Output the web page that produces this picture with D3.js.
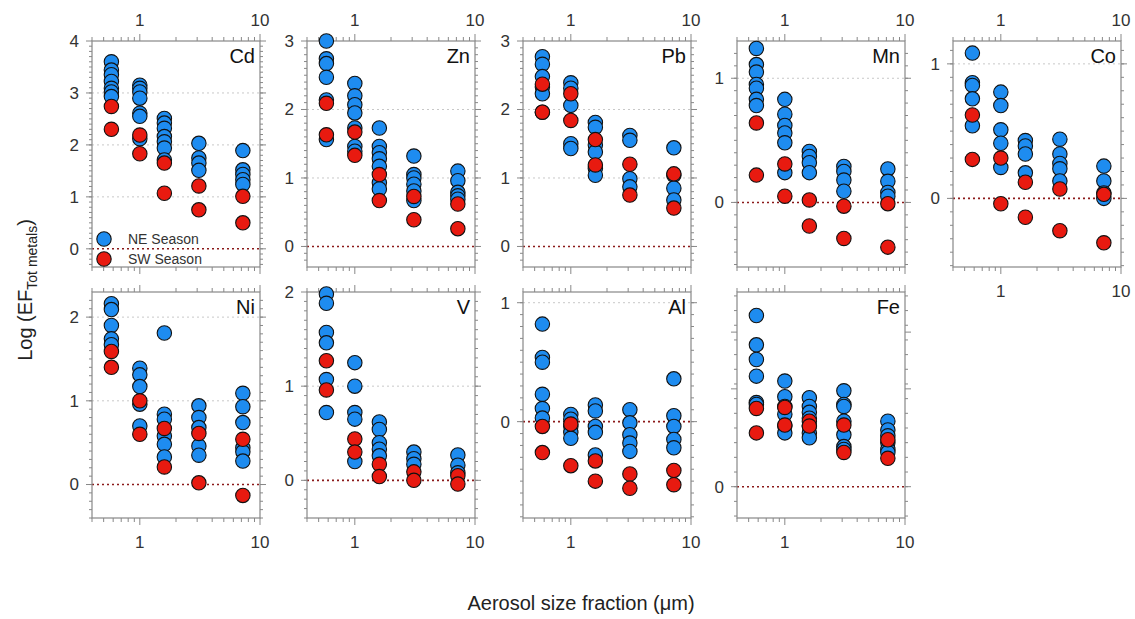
<!DOCTYPE html>
<html>
<head>
<meta charset="utf-8">
<script src="https://cdn.jsdelivr.net/npm/d3@7"></script>
<style>
  body { margin: 0; background: #fff; }
  text { font-family: "Liberation Sans", Arial, sans-serif; }
</style>
</head>
<body>
<div id="chart"></div>
<script>
var width = 1135;
var height = 619;

// aerosol size fractions (um), one column of points each
var sizes = [0.58, 1.0, 1.6, 3.1, 7.2];

// Log(EF) values per size fraction, NE and SW season
var cdNE = [[3.60, 3.44, 3.35, 3.22, 3.09, 3.02, 2.93], [3.15, 3.09, 3.02, 2.90, 2.61, 2.55, 2.12], [2.51, 2.42, 2.32, 2.16, 2.06, 1.94, 1.71], [2.03, 1.75, 1.65, 1.51], [1.89, 1.52, 1.43, 1.33, 1.24]];
var cdSW = [[2.74, 2.30], [2.19, 1.83], [1.65, 1.07], [1.21, 0.75], [1.01, 0.50]];
var znNE = [[3.00, 2.74, 2.67, 2.47, 2.14, 1.56], [2.38, 2.20, 2.07, 1.95, 1.73, 1.46, 1.39], [1.73, 1.46, 1.37, 1.28, 1.17, 0.93, 0.84], [1.32, 1.05, 1.00, 0.91, 0.81, 0.67], [1.10, 0.96, 0.79, 0.74, 0.69]];
var znSW = [[2.09, 1.63], [1.67, 1.33], [1.05, 0.67], [0.73, 0.39], [0.62, 0.26]];
var pbNE = [[2.77, 2.66, 2.48, 2.33, 2.23, 1.96], [2.39, 2.31, 2.06, 1.50, 1.43], [1.81, 1.74, 1.48, 1.38, 1.14, 1.04], [1.62, 1.55, 0.99, 0.87], [1.44, 1.04, 0.85, 0.68]];
var pbSW = [[2.37, 1.96], [2.23, 1.84], [1.56, 1.19], [1.20, 0.75], [1.06, 0.56]];
var mnNE = [[1.24, 1.11, 1.05, 0.95, 0.92, 0.83, 0.78], [0.83, 0.71, 0.62, 0.56, 0.48, 0.24], [0.41, 0.37, 0.32, 0.24], [0.29, 0.25, 0.18, 0.09], [0.27, 0.17, 0.08, 0.05]];
var mnSW = [[0.64, 0.22], [0.31, 0.05], [0.02, -0.19], [-0.03, -0.29], [-0.01, -0.36]];
var coNE = [[1.08, 0.86, 0.84, 0.74, 0.54], [0.79, 0.69, 0.51, 0.41, 0.23], [0.43, 0.39, 0.33, 0.19], [0.44, 0.33, 0.26, 0.22, 0.13], [0.24, 0.13, 0.04, 0.00]];
var coSW = [[0.62, 0.29], [0.30, -0.04], [0.12, -0.14], [0.07, -0.24], [0.03, -0.33]];
var niNE = [[2.16, 2.09, 1.90, 1.74, 1.67], [1.39, 1.31, 1.17, 0.96, 0.70], [1.81, 0.84, 0.78, 0.58, 0.48, 0.33], [0.94, 0.80, 0.68, 0.46, 0.35], [1.09, 0.93, 0.74, 0.44, 0.39, 0.28]];
var niSW = [[1.59, 1.40], [1.00, 0.60], [0.67, 0.21], [0.61, 0.02], [0.54, -0.13]];
var vNE = [[1.98, 1.88, 1.57, 1.46, 1.07, 0.72], [1.25, 1.00, 0.72, 0.65, 0.20], [0.62, 0.54, 0.40, 0.33, 0.26], [0.30, 0.23, 0.17], [0.27, 0.16, 0.08]];
var vSW = [[1.27, 0.96], [0.44, 0.30], [0.17, 0.04], [0.09, 0.00], [0.05, -0.04]];
var alNE = [[0.82, 0.54, 0.50, 0.23, 0.11, 0.03], [0.06, 0.02, -0.04, -0.09, -0.14], [0.14, 0.09, -0.04, -0.09, -0.28], [0.10, -0.01, -0.11, -0.18, -0.25], [0.36, 0.05, -0.04, -0.15, -0.22]];
var alSW = [[-0.04, -0.26], [-0.02, -0.37], [-0.33, -0.50], [-0.44, -0.56], [-0.41, -0.53]];
var feNE = [[1.75, 1.45, 1.30, 1.13, 0.86, 0.84], [1.08, 0.92, 0.82, 0.74, 0.62, 0.55], [0.91, 0.82, 0.76, 0.70, 0.62, 0.55, 0.50], [0.98, 0.84, 0.82, 0.67, 0.53, 0.41, 0.38], [0.67, 0.58, 0.52, 0.45, 0.38, 0.35]];
var feSW = [[0.80, 0.55], [0.81, 0.63], [0.67, 0.62], [0.63, 0.35], [0.48, 0.29]];

// y axis ticks per panel
var ticksCd = [0, 1, 2, 3, 4];
var ticksZn = [0, 1, 2, 3];
var ticksPb = [0, 1, 2, 3];
var ticksMn = [0, 1];
var ticksCo = [0, 1];
var ticksNi = [0, 1, 2];
var ticksV = [0, 1, 2];
var ticksAl = [0, 1];
var ticksFe = [0, 1, 1.58];

var seasons = ["NE Season", "SW Season"];
var xTicks = [1, 10];

var blue = "#1e8cf0";
var red = "#e81a10";

var panels = [
  { name: "Cd", ne: cdNE, sw: cdSW, ticks: ticksCd, y: [-0.35, 4], row: 0, col: 0, minor: 0.1 },
  { name: "Zn", ne: znNE, sw: znSW, ticks: ticksZn, y: [-0.3, 3], row: 0, col: 1, minor: 0.1 },
  { name: "Pb", ne: pbNE, sw: pbSW, ticks: ticksPb, y: [-0.3, 3], row: 0, col: 2, minor: 0.1 },
  { name: "Mn", ne: mnNE, sw: mnSW, ticks: ticksMn, y: [-0.52, 1.3], row: 0, col: 3, minor: 0.1 },
  { name: "Co", ne: coNE, sw: coSW, ticks: ticksCo, y: [-0.51, 1.17], row: 0, col: 4, minor: 0.1, bottomLabels: true },
  { name: "Ni", ne: niNE, sw: niSW, ticks: ticksNi, y: [-0.4, 2.3], row: 1, col: 0, minor: 0.1 },
  { name: "V", ne: vNE, sw: vSW, ticks: ticksV, y: [-0.4, 2], row: 1, col: 1, minor: 0.1 },
  { name: "Al", ne: alNE, sw: alSW, ticks: ticksAl, y: [-0.81, 1.09], row: 1, col: 2, minor: 0.1 },
  { name: "Fe", ne: feNE, sw: feSW, ticks: ticksFe, y: [-0.32, 1.99], row: 1, col: 3, minor: 0.15, onlyZero: true }
];

var colLeft = [92, 307, 523, 737, 953];
var rowTop = [41, 292];
var pw = 168;
var ph = 226;

var svg = d3.select("#chart").append("svg")
  .attr("width", width)
  .attr("height", height);

var minorX = [0.4, 0.5, 0.6, 0.7, 0.8, 0.9, 2, 3, 4, 5, 6, 7, 8, 9];

panels.forEach(function(p) {
  var g = svg.append("g")
    .attr("transform", "translate(" + colLeft[p.col] + "," + rowTop[p.row] + ")");

  var x = d3.scaleLog().domain([0.4, 10]).range([0, pw]);
  var y = d3.scaleLinear().domain(p.y).range([ph, 0]);

  // gridlines at labelled ticks
  if (!p.onlyZero) {
    g.selectAll(".grid")
      .data(p.ticks.filter(function(t) { return t !== 0 && y(t) > 1; }))
      .enter().append("line")
      .attr("x1", 0).attr("x2", pw)
      .attr("y1", function(d) { return y(d); })
      .attr("y2", function(d) { return y(d); })
      .attr("stroke", "#c8c8c8")
      .attr("stroke-width", 1)
      .attr("stroke-dasharray", "2,3");
  }

  // zero line
  g.append("line")
    .attr("x1", 0).attr("x2", pw)
    .attr("y1", y(0)).attr("y2", y(0))
    .attr("stroke", "#8b1a1a")
    .attr("stroke-width", 1.6)
    .attr("stroke-dasharray", "2,3");

  // minor y ticks
  var minorY = d3.range(Math.ceil(p.y[0] / p.minor) * p.minor, p.y[1], p.minor);
  [0, pw].forEach(function(xe, k) {
    var dir = k === 0 ? -1 : 1;
    g.selectAll(null).data(minorY).enter().append("line")
      .attr("x1", xe).attr("x2", xe + dir * 3)
      .attr("y1", function(d) { return y(d); })
      .attr("y2", function(d) { return y(d); })
      .attr("stroke", "#888");
    g.selectAll(null).data(p.ticks).enter().append("line")
      .attr("x1", xe).attr("x2", xe + dir * 6)
      .attr("y1", function(d) { return y(d); })
      .attr("y2", function(d) { return y(d); })
      .attr("stroke", "#888");
  });

  // x ticks top and bottom (outward)
  [0, ph].forEach(function(ye, k) {
    var dir = k === 0 ? -1 : 1;
    g.selectAll(null).data(minorX).enter().append("line")
      .attr("x1", function(d) { return x(d); })
      .attr("x2", function(d) { return x(d); })
      .attr("y1", ye).attr("y2", ye + dir * 4)
      .attr("stroke", "#888");
    g.selectAll(null).data(xTicks).enter().append("line")
      .attr("x1", function(d) { return x(d); })
      .attr("x2", function(d) { return x(d); })
      .attr("y1", ye).attr("y2", ye + dir * 7)
      .attr("stroke", "#888");
  });

  // frame
  g.append("rect")
    .attr("width", pw).attr("height", ph)
    .attr("fill", "none")
    .attr("stroke", "#888")
    .attr("stroke-width", 1.2);

  // y labels
  g.selectAll(".ylab")
    .data(p.onlyZero ? [0] : p.ticks)
    .enter().append("text")
    .attr("x", -13)
    .attr("y", function(d) { return y(d); })
    .attr("dy", "0.35em")
    .attr("text-anchor", "end")
    .attr("font-size", 17)
    .attr("fill", "#333")
    .text(function(d) { return d; });

  // x labels
  if (p.row === 0) {
    g.selectAll(".xlabt").data(xTicks).enter().append("text")
      .attr("x", function(d) { return x(d); })
      .attr("y", -15)
      .attr("text-anchor", "middle")
      .attr("font-size", 17)
      .attr("fill", "#333")
      .text(function(d) { return d; });
  }
  if (p.row === 1 || p.bottomLabels) {
    g.selectAll(".xlabb").data(xTicks).enter().append("text")
      .attr("x", function(d) { return x(d); })
      .attr("y", ph + 30)
      .attr("text-anchor", "middle")
      .attr("font-size", 17)
      .attr("fill", "#333")
      .text(function(d) { return d; });
  }

  // points
  var pts = [];
  p.ne.forEach(function(vals, i) {
    vals.forEach(function(v) { pts.push({ s: sizes[i], v: v, c: blue }); });
  });
  p.sw.forEach(function(vals, i) {
    vals.forEach(function(v) { pts.push({ s: sizes[i], v: v, c: red }); });
  });
  g.selectAll(".pt").data(pts).enter().append("circle")
    .attr("cx", function(d) { return x(d.s); })
    .attr("cy", function(d) { return y(d.v); })
    .attr("r", 7.2)
    .attr("fill", function(d) { return d.c; })
    .attr("stroke", "#111")
    .attr("stroke-width", 1.1);

  // element label
  g.append("text")
    .attr("x", pw - 5)
    .attr("y", 22)
    .attr("text-anchor", "end")
    .attr("font-size", 20)
    .attr("fill", "#111")
    .text(p.name);

  // legend in first panel
  if (p.name === "Cd") {
    seasons.forEach(function(s, i) {
      g.append("circle")
        .attr("cx", 12).attr("cy", 198 + i * 20)
        .attr("r", 7.2)
        .attr("fill", i === 0 ? blue : red)
        .attr("stroke", "#111")
        .attr("stroke-width", 1.1);
      g.append("text")
        .attr("x", 36).attr("y", 198 + i * 20)
        .attr("dy", "0.35em")
        .attr("font-size", 14)
        .attr("fill", "#333")
        .text(s);
    });
  }
});

// axis titles
var yt = svg.append("text")
  .attr("transform", "translate(32,290) rotate(-90)")
  .attr("text-anchor", "middle")
  .attr("font-size", 20)
  .attr("fill", "#222");
yt.append("tspan").text("Log (EF");
yt.append("tspan").attr("font-size", 14).attr("dy", 5).text("Tot metals");
yt.append("tspan").attr("dy", -5).text(")");

svg.append("text")
  .attr("x", 581)
  .attr("y", 610)
  .attr("text-anchor", "middle")
  .attr("font-size", 20)
  .attr("fill", "#222")
  .text("Aerosol size fraction (\u03bcm)");
</script>
</body>
</html>
